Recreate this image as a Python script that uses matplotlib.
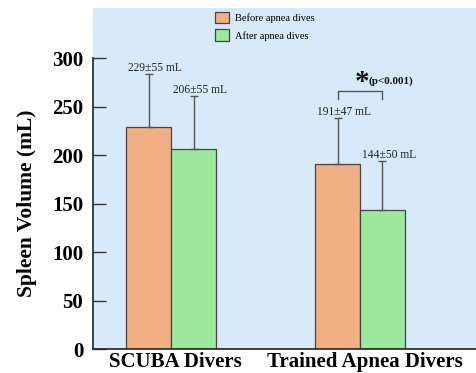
import matplotlib
matplotlib.use("Agg")
import matplotlib.pyplot as plt
import numpy as np
from matplotlib.patches import Patch

plt.rcParams["font.family"] = ["Liberation Serif", "DejaVu Serif"]

groups = ["SCUBA Divers", "Trained Apnea Divers"]
before_mean = [229, 191]
before_sd = [55, 47]
after_mean = [206, 144]
after_sd = [55, 50]
series_labels = ["Before apnea dives", "After apnea dives"]
p_text = "(p<0.001)"

col_before = "#F0B084"
col_after = "#9DE89C"
bg = "#D8EAF9"
edge = "#444444"

fig = plt.figure(figsize=(4.76, 3.73), dpi=100)
ax = fig.add_axes([0.1954, 0.0643, 0.8046, 0.9143])
ax.set_facecolor(bg)

x = np.arange(len(groups))
w = 0.238
xb = x - w / 2
xa = x + w / 2

ax.bar(xb, before_mean, w, color=col_before, edgecolor=edge, linewidth=0.9, zorder=2)
ax.bar(xa, after_mean, w, color=col_after, edgecolor=edge, linewidth=0.9, zorder=2)

# upper error bars only
ax.errorbar(xb, before_mean, yerr=[np.zeros(2), before_sd], fmt="none",
            ecolor="#555555", elinewidth=1.0, capsize=3, capthick=1.0, zorder=3)
ax.errorbar(xa, after_mean, yerr=[np.zeros(2), after_sd], fmt="none",
            ecolor="#555555", elinewidth=1.0, capsize=3, capthick=1.0, zorder=3)

for xs, means, sds in ((xb, before_mean, before_sd), (xa, after_mean, after_sd)):
    for xi, m, s in zip(xs, means, sds):
        ax.annotate(f"{m}±{s} mL", (xi, m + s), xytext=(4.5, 0),
                    textcoords="offset points", ha="center", va="bottom",
                    fontsize=8.3, color="#222222", zorder=4)

# significance bracket over the trained apnea divers
b_lo, b_hi = 258, 266
ax.plot([xb[1], xb[1], xa[1], xa[1]], [b_lo, b_hi, b_hi, b_lo],
        color="#555555", linewidth=1.0, zorder=3)
mid = (xb[1] + xa[1]) / 2
ax.text(mid + 0.01, 275, "*", ha="center", va="center", fontsize=21,
        fontweight="bold", color="#111111")
ax.text(mid + 0.045, 276, p_text, ha="left", va="center", fontsize=8,
        fontweight="bold", color="#111111")

ax.set_xlim(-0.413, 1.614)
ax.set_ylim(0, 352)
ax.set_yticks(np.arange(0, 301, 50))
# x ticks are hidden; nudge the group labels a little to the right
ax.set_xticks(x + 0.025)
ax.set_xticklabels(groups, fontsize=15, fontweight="bold")
for lab in ax.get_yticklabels():
    lab.set_fontweight("bold")
ax.tick_params(axis="y", direction="in", length=9, width=1.0, color="#333333",
               labelsize=15, pad=7)
ax.tick_params(axis="x", length=0, pad=2)

ax.spines["top"].set_visible(False)
ax.spines["right"].set_visible(False)
ax.spines["left"].set_bounds(0, 300)
ax.spines["left"].set_color("#222222")
ax.spines["bottom"].set_color("#222222")
ax.spines["left"].set_linewidth(1.2)
ax.spines["bottom"].set_linewidth(1.2)

ax.set_ylabel("Spleen Volume (mL)", fontsize=15.5, fontweight="bold")
ax.yaxis.set_label_coords(-0.145, 150 / 352)

handles = [Patch(facecolor=col_before, edgecolor=edge, linewidth=0.9),
           Patch(facecolor=col_after, edgecolor=edge, linewidth=0.9)]
ax.legend(handles, series_labels, loc="upper left", bbox_to_anchor=(0.30, 1.01),
          frameon=False, fontsize=7.5, handlelength=1.3, handleheight=1.3,
          labelspacing=0.6, handletextpad=0.6, borderpad=0.2)

fig.savefig("out.png", dpi=100)
